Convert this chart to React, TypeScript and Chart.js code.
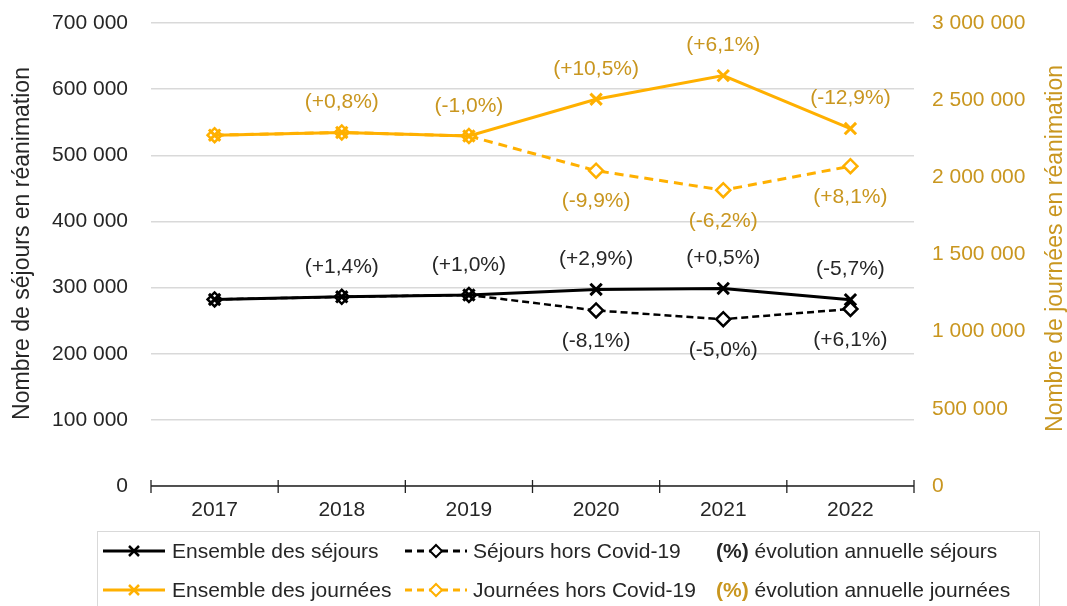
import React, { useEffect, useRef } from "react";
import { Chart, registerables } from "chart.js";

Chart.register(...registerables);

const years = ["2017", "2018", "2019", "2020", "2021", "2022"];
const sejoursTotal = [282000, 286000, 288800, 297200, 298700, 281700];
const sejoursHorsCovid = [282000, 286000, 288800, 265400, 252200, 267600];
const journeesTotal = [2273000, 2291000, 2268000, 2506000, 2659000, 2316000];
const journeesHorsCovid = [2273000, 2291000, 2268000, 2043000, 1917000, 2072000];

const sejoursTotalPct = [null, "(+1,4%)", "(+1,0%)", "(+2,9%)", "(+0,5%)", "(-5,7%)"];
const sejoursHorsPct = [null, null, null, "(-8,1%)", "(-5,0%)", "(+6,1%)"];
const journeesTotalPct = [null, "(+0,8%)", "(-1,0%)", "(+10,5%)", "(+6,1%)", "(-12,9%)"];
const journeesHorsPct = [null, null, null, "(-9,9%)", "(-6,2%)", "(+8,1%)"];

const leftTitle = "Nombre de séjours en réanimation";
const rightTitle = "Nombre de journées en réanimation";

const BLACK = "#000000";
const ORANGE = "#FFB000";
const GOLD = "#C9961F";
const TEXT = "#262626";
const FONT = "'Liberation Sans', Arial, sans-serif";
const FS = 21;

const fmt = (v: number) => String(v).replace(/\B(?=(\d{3})+(?!\d))/g, " ");

const labelPlugin = {
  id: "pctLabels",
  afterDatasetsDraw(chart: any) {
    const ctx = chart.ctx;
    ctx.save();
    ctx.font = `${FS}px ${FONT}`;
    ctx.textAlign = "center";
    ctx.textBaseline = "middle";
    chart.data.datasets.forEach((ds: any, i: number) => {
      const meta = chart.getDatasetMeta(i);
      const labs = ds.pctLabels as (string | null)[];
      if (!labs) return;
      meta.data.forEach((pt: any, j: number) => {
        const t = labs[j];
        if (!t) return;
        ctx.fillStyle = ds.pctColor;
        const y = ds.pctPos === "above" ? pt.y - 30 : pt.y + 31;
        ctx.fillText(t, pt.x, y);
      });
    });
    ctx.restore();
  },
};

const axisPlugin = {
  id: "xAxisLine",
  beforeDatasetsDraw(chart: any) {
    const { ctx, chartArea } = chart;
    const { left, right, bottom } = chartArea;
    ctx.save();
    ctx.strokeStyle = "#222";
    ctx.lineWidth = 1.3;
    ctx.beginPath();
    ctx.moveTo(left, bottom);
    ctx.lineTo(right, bottom);
    const n = years.length;
    for (let i = 0; i <= n; i++) {
      const x = left + ((right - left) * i) / n;
      ctx.moveTo(x, bottom - 6);
      ctx.lineTo(x, bottom + 7);
    }
    ctx.stroke();
    ctx.restore();
  },
  afterDraw(chart: any) {
    const { ctx, chartArea } = chart;
    const cy = (chartArea.top + chartArea.bottom) / 2;
    ctx.save();
    ctx.font = `23px ${FONT}`;
    ctx.textAlign = "center";
    ctx.textBaseline = "middle";
    ctx.fillStyle = TEXT;
    ctx.translate(23, cy - 11);
    ctx.rotate(-Math.PI / 2);
    ctx.fillText(leftTitle, 0, 0);
    ctx.restore();
    ctx.save();
    ctx.font = `23px ${FONT}`;
    ctx.textAlign = "center";
    ctx.textBaseline = "middle";
    ctx.fillStyle = GOLD;
    ctx.translate(1056, cy - 6);
    ctx.rotate(-Math.PI / 2);
    ctx.fillText(rightTitle, 0, 0);
    ctx.restore();
  },
};

function LegendIcon({ color, dashed, diamond }: { color: string; dashed: boolean; diamond: boolean }) {
  return (
    <svg width="62" height="20" style={{ display: "block" }}>
      <line x1="0" y1="10" x2="62" y2="10" stroke={color} strokeWidth={3} strokeDasharray={dashed ? "7 5" : undefined} />
      {diamond ? (
        <polygon points="31,4 37,10 31,16 25,10" fill="#fff" stroke={color} strokeWidth={2} />
      ) : (
        <g stroke={color} strokeWidth={2.5}>
          <line x1="26" y1="5" x2="36" y2="15" />
          <line x1="36" y1="5" x2="26" y2="15" />
        </g>
      )}
    </svg>
  );
}

export default function App() {
  const ref = useRef<HTMLCanvasElement>(null);
  useEffect(() => {
    if (!ref.current) return;
    const chart = new Chart(ref.current, {
      type: "line",
      data: {
        labels: years,
        datasets: [
          {
            label: "Ensemble des séjours",
            data: sejoursTotal,
            yAxisID: "y",
            borderColor: BLACK,
            backgroundColor: BLACK,
            borderWidth: 3,
            pointStyle: "crossRot",
            pointRadius: 8,
            pointBorderWidth: 3,
            pointBorderColor: BLACK,
            pctLabels: sejoursTotalPct,
            pctColor: TEXT,
            pctPos: "above",
          } as any,
          {
            label: "Ensemble des journées",
            data: journeesTotal,
            yAxisID: "y1",
            borderColor: ORANGE,
            backgroundColor: ORANGE,
            borderWidth: 3,
            pointStyle: "crossRot",
            pointRadius: 8,
            pointBorderWidth: 3,
            pointBorderColor: ORANGE,
            pctLabels: journeesTotalPct,
            pctColor: GOLD,
            pctPos: "above",
          } as any,
          {
            label: "Séjours hors Covid-19",
            data: sejoursHorsCovid,
            yAxisID: "y",
            borderColor: BLACK,
            backgroundColor: "#fff",
            borderWidth: 2.5,
            borderDash: [7, 4],
            pointStyle: "rectRot",
            pointRadius: 7,
            pointBorderWidth: 2.5,
            pointBorderColor: BLACK,
            pointBackgroundColor: "#fff",
            pctLabels: sejoursHorsPct,
            pctColor: TEXT,
            pctPos: "below",
          } as any,
          {
            label: "Journées hors Covid-19",
            data: journeesHorsCovid,
            yAxisID: "y1",
            borderColor: ORANGE,
            backgroundColor: "#fff",
            borderWidth: 3,
            borderDash: [9, 6],
            pointStyle: "rectRot",
            pointRadius: 7,
            pointBorderWidth: 2.5,
            pointBorderColor: ORANGE,
            pointBackgroundColor: "#fff",
            pctLabels: journeesHorsPct,
            pctColor: GOLD,
            pctPos: "below",
          } as any,
        ],
      },
      options: {
        responsive: false,
        animation: false,
        layout: { padding: { top: 23, left: 0, right: 0, bottom: 0 } },
        plugins: { legend: { display: false }, tooltip: { enabled: false } },
        scales: {
          x: {
            type: "category",
            offset: true,
            grid: { display: false, drawTicks: false },
            border: { display: false },
            ticks: { color: TEXT, font: { size: FS, family: FONT }, padding: 12, maxRotation: 0 },
            afterFit: (s: any) => {
              s.height = 120;
            },
          },
          y: {
            position: "left",
            min: 0,
            max: 700000,
            grid: { color: "#d9d9d9", lineWidth: 1.5, drawTicks: false },
            border: { display: false },
            ticks: {
              stepSize: 100000,
              color: TEXT,
              font: { size: FS, family: FONT },
              padding: 23,
              callback: (v: any) => fmt(Number(v)),
            },
            afterFit: (s: any) => {
              s.width = 151;
              s.paddingTop = 0;
              s.paddingBottom = 0;
            },
          },
          y1: {
            position: "right",
            min: 0,
            max: 3000000,
            grid: { display: false, drawTicks: false },
            border: { display: false },
            ticks: {
              stepSize: 500000,
              color: GOLD,
              font: { size: FS, family: FONT },
              padding: 18,
              callback: (v: any) => fmt(Number(v)),
            },
            afterFit: (s: any) => {
              s.width = 153;
              s.paddingTop = 0;
              s.paddingBottom = 0;
            },
          },
        },
      } as any,
      plugins: [axisPlugin, labelPlugin],
    });
    return () => chart.destroy();
  }, []);

  const textStyle: React.CSSProperties = {
    position: "absolute",
    fontFamily: FONT,
    fontSize: FS,
    color: TEXT,
    whiteSpace: "nowrap",
    lineHeight: "24px",
  };

  const rows = [
    { y: 551, items: [
      { x: 103, tx: 172, color: BLACK, dashed: false, diamond: false, text: "Ensemble des séjours" },
      { x: 405, tx: 473, color: BLACK, dashed: true, diamond: true, text: "Séjours hors Covid-19" },
    ], pctColor: TEXT, pctText: "évolution annuelle séjours" },
    { y: 590, items: [
      { x: 103, tx: 172, color: ORANGE, dashed: false, diamond: false, text: "Ensemble des journées" },
      { x: 405, tx: 473, color: ORANGE, dashed: true, diamond: true, text: "Journées hors Covid-19" },
    ], pctColor: GOLD, pctText: "évolution annuelle journées" },
  ];

  return (
    <div style={{ position: "fixed", left: 0, top: 0, width: 1067, height: 606, background: "#fff", overflow: "hidden" }}>
      <canvas ref={ref} width={1067} height={606} style={{ position: "absolute", left: 0, top: 0 }} />
      <div style={{ position: "absolute", left: 97, top: 531, width: 943, height: 90, border: "1px solid #d9d9d9", boxSizing: "border-box" }} />
      {rows.map((r, ri) => (
        <React.Fragment key={ri}>
          {r.items.map((it, ii) => (
            <React.Fragment key={ii}>
              <div style={{ position: "absolute", left: it.x, top: r.y - 10 }}>
                <LegendIcon color={it.color} dashed={it.dashed} diamond={it.diamond} />
              </div>
              <div style={{ ...textStyle, left: it.tx, top: r.y - 12 }}>{it.text}</div>
            </React.Fragment>
          ))}
          <div style={{ ...textStyle, left: 716, top: r.y - 12 }}>
            <span style={{ fontWeight: "bold", color: r.pctColor }}>(%)</span> {r.pctText}
          </div>
        </React.Fragment>
      ))}
    </div>
  );
}
